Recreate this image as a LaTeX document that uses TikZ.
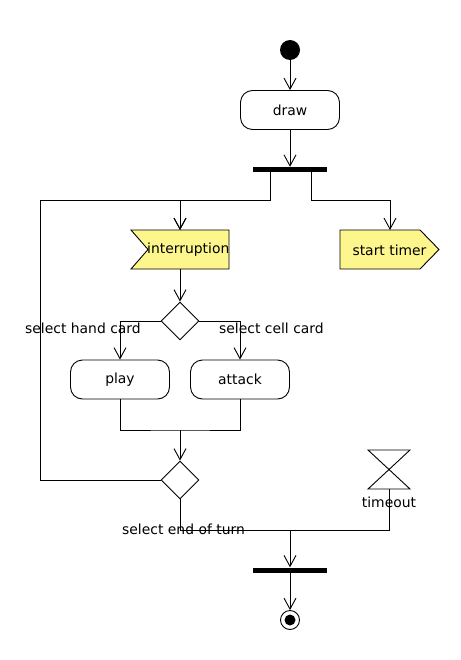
\documentclass[tikz,border=0pt]{standalone}
\usepackage{fontspec}
\setmainfont{DejaVu Sans}
\usetikzlibrary{arrows.meta,shapes.geometric,calc}
\definecolor{sigyellow}{RGB}{252,246,140}
\tikzset{
  conn/.style={draw=black,line width=0.9pt},
  arr/.style={conn,-{Straight Barb[length=11pt,width=12pt,line width=0.9pt]}},
  actbox/.style={draw=black,line width=0.9pt,rounded corners=12pt,minimum width=99pt,minimum height=39pt,inner sep=0pt},
  bar/.style={fill=black,draw=none,minimum width=74pt,minimum height=5pt,inner sep=0pt},
  decision/.style={diamond,draw=black,line width=0.9pt,minimum width=38pt,minimum height=38pt,inner sep=0pt,aspect=1},
  ghost/.style={inner sep=0pt,outer sep=0pt},
  lbl/.style={inner sep=0pt,font=\fontsize{13.9}{16}\selectfont}
}
\begin{document}
\begin{tikzpicture}[x=1pt,y=-1pt,font=\fontsize{13.9}{16}\selectfont]
\useasboundingbox (0,0) rectangle (460,660);
\fill[white] (0,0) rectangle (460,660);
% nodes
\node[circle,fill=black,minimum size=20pt,inner sep=0pt] (start) at (290,50) {};
\node[actbox] (drawbox) at (290,110) {draw};
\node[bar] (fork1) at (290,169.5) {};
% interruption (accept event)
\node[ghost,minimum width=98pt,minimum height=39pt] (intr) at (180,249.5) {};
\fill[sigyellow] (131,230) -- (229,230) -- (229,269) -- (131,269) -- (148,249.5) -- cycle;
\begin{scope}
\clip (131,230) rectangle (229.5,269);
\node[lbl,anchor=west] (intrtext) at (147,250) {interruption};
\end{scope}
\draw[conn] (131,230) -- (229,230) -- (229,269) -- (131,269) -- (148,249.5) -- cycle;
% start timer (send signal)
\node[ghost,minimum width=99pt,minimum height=39pt] (timer) at (389.5,249.5) {};
\fill[sigyellow,draw=black,line width=0.9pt] (340,230) -- (420,230) -- (439,249.5) -- (420,269) -- (340,269) -- cycle;
\node[lbl] (timertext) at (389.5,250) {start timer};
% decision
\node[decision] (dec1) at (180,321) {};
\node[actbox] (play) at (120,379.5) {play};
\node[actbox] (attack) at (240,379.5) {attack};
\node[decision] (merge) at (180,480) {};
% hourglass (timeout)
\node[ghost,minimum width=42pt,minimum height=39pt] (hg) at (389,469.5) {};
\draw[conn] (hg.north west) -- (hg.north east) -- (hg.south west) -- (hg.south east) -- cycle;
\node[lbl,anchor=base] (tolbl) at (389,507) {timeout};
\node[bar] (bar2) at (290,570) {};
\node[circle,draw=black,line width=0.9pt,minimum size=19pt,inner sep=0pt] (final) at (290,620) {};
\node[circle,fill=black,minimum size=11pt,inner sep=0pt] (finalin) at (290,620) {};
% coordinates
\coordinate (loopTop) at (40,200);
\coordinate (joinPA) at (180,430);
\coordinate (joinEnd) at (290,530);
% connectors
\draw[arr] (start) -- (drawbox.north);
\draw[arr] (drawbox.south) -- (fork1.north);
\draw[arr] ([xshift=-20pt]fork1.south) -- ++(0,28) -| (intr.north);
\draw[arr] ([xshift=21pt]fork1.south) -- ++(0,28) -| (timer.north -| 390,0);
\draw[arr] (merge.west) -| (loopTop) -| (intr.north);
\draw[arr] (intr.south) -- (dec1.north);
\draw[arr] (dec1.west) -| (play.north);
\draw[arr] (dec1.east) -| (attack.north);
\draw[conn] (play.south) |- (joinPA) -| (attack.south);
\draw[arr] (joinPA) -- (merge.north);
\draw[conn] (merge.south) |- (joinEnd);
\draw[conn] (hg.south) |- (joinEnd);
\draw[arr] (joinEnd) -- (bar2.north);
\draw[arr] (bar2.south) -- (final.north);
% labels
\node[lbl,anchor=base west] (lhand) at (25,333) {select hand card};
\node[lbl,anchor=base west] (lcell) at (219,333) {select cell card};
\node[lbl,anchor=base west] (lend) at (122,534) {select end of turn};
\end{tikzpicture}
\end{document}
